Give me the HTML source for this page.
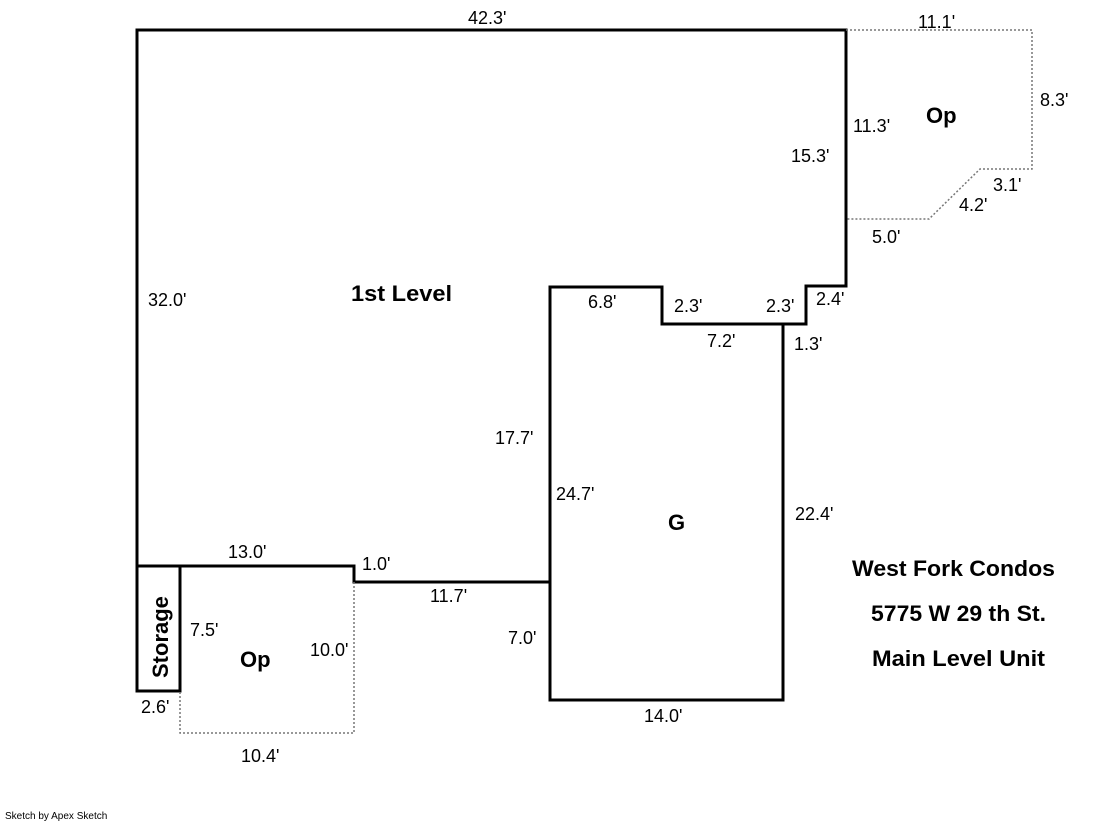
<!DOCTYPE html>
<html><head><style>
body{margin:0;background:#fff;}
svg text{font-family:"Liberation Sans",Arial,sans-serif;font-size:18px;fill:#000;}
.b{font-weight:bold;font-size:22px;}
</style></head><body>
<svg width="1119" height="821" xmlns="http://www.w3.org/2000/svg">
<g fill="none" stroke="#000" stroke-width="3">
<path d="M137 566 V30 H846 V286 H806 V324 H662 V287 H550 V700 H783 V324"/>
<path d="M137 566 H354 V582 H550"/>
<rect x="137" y="566" width="43" height="125"/>
</g>
<g fill="none" stroke="#777" stroke-width="1.5" stroke-dasharray="2,2">
<path d="M846 30 H1032 V169 H980 L929 219 H846"/>
<path d="M354 582 V733 H180 V691"/>
</g>
<text x="468" y="24">42.3'</text>
<text x="918" y="28">11.1'</text>
<text x="1040" y="106">8.3'</text>
<text x="853" y="132">11.3'</text>
<text x="791" y="162">15.3'</text>
<text x="993" y="191">3.1'</text>
<text x="959" y="211">4.2'</text>
<text x="872" y="243">5.0'</text>
<text x="148" y="306">32.0'</text>
<text x="588" y="308">6.8'</text>
<text x="674" y="312">2.3'</text>
<text x="766" y="312">2.3'</text>
<text x="816" y="305">2.4'</text>
<text x="707" y="347">7.2'</text>
<text x="794" y="350">1.3'</text>
<text x="495" y="444">17.7'</text>
<text x="556" y="500">24.7'</text>
<text x="795" y="520">22.4'</text>
<text x="228" y="558">13.0'</text>
<text x="362" y="570">1.0'</text>
<text x="430" y="602">11.7'</text>
<text x="190" y="636">7.5'</text>
<text x="310" y="656">10.0'</text>
<text x="508" y="644">7.0'</text>
<text x="141" y="713">2.6'</text>
<text x="644" y="722">14.0'</text>
<text x="241" y="762">10.4'</text>
<text class="b" x="351" y="301" textLength="101" lengthAdjust="spacingAndGlyphs">1st Level</text>
<text class="b" x="926" y="123">Op</text>
<text class="b" x="668" y="530">G</text>
<text class="b" x="240" y="667">Op</text>
<text class="b" transform="translate(168 678) rotate(-90)">Storage</text>
<text class="b" x="852" y="576" textLength="203" lengthAdjust="spacingAndGlyphs">West Fork Condos</text>
<text class="b" x="871" y="621" textLength="175" lengthAdjust="spacingAndGlyphs">5775 W 29 th St.</text>
<text class="b" x="872" y="666" textLength="173" lengthAdjust="spacingAndGlyphs">Main Level Unit</text>
<text x="5" y="819" style="font-size:10px">Sketch by Apex Sketch</text>
</svg>
</body></html>
